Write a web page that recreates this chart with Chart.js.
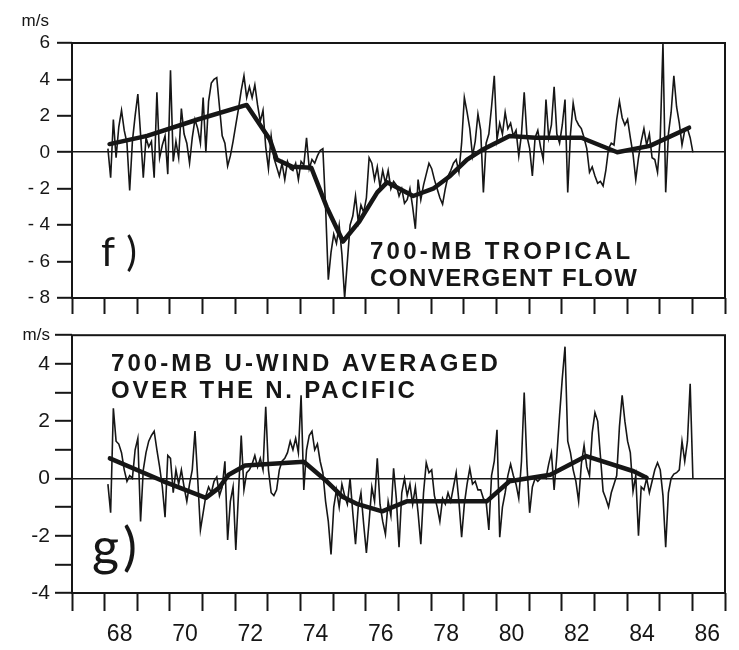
<!DOCTYPE html>
<html lang="en">
<head>
  <meta charset="UTF-8">
  <title>700-MB tropical convergent flow and N. Pacific U-wind</title>
  <script src="https://cdn.jsdelivr.net/npm/chart.js"></script>
  <style>
    body { margin: 0; background: #fff; }
    #wrap { position: relative; width: 739px; height: 650px; background: #fff; }
    #wrap canvas { position: absolute; left: 0; }
  </style>
</head>
<body>
  <div id="wrap">
    <canvas id="panelF" width="739" height="320" style="top: 0;"></canvas>
    <canvas id="panelG" width="739" height="330" style="top: 320px;"></canvas>
  </div>

  <script>
    // monthly anomalies, Jan 1968 .. Dec 1985, m/s (one row per year)
    const firstMonth = 1968.1;

    const convergentFlow = [
      0.2, -1.4, 1.8, -0.3, 1.4, 2.3, 1.2, 0.5, -2.1, 0.6, 2.0, 3.2,
      1.0, -1.4, 0.8, 0.3, 0.6, -1.4, 3.3, -0.3, 0.4, 0.9, -1.2, 4.5,
      -0.5, 0.6, -0.3, 2.4, 1.0, 0.5, -0.6, 0.8, 1.8, 1.3, 0.5, 3.0,
      0.0, 2.8, 3.8, 4.0, 4.1, 2.5, 0.9, 0.5, -0.75, -0.2, 0.6, 1.5,
      2.4, 3.4, 4.2, 3.0, 3.6, 3.0, 3.7, 2.6, 1.7, 2.3, 0.3, -0.9,
      0.9, -0.3, -0.8, -1.3, -0.6, -1.5, -0.5, -0.9, -1.0, -0.6, -1.5, -0.5,
      -0.7, 0.8, -0.9, -0.4, -0.6, -0.2, 0.1, 0.2, -3.0, -7.0, -5.5, -4.5,
      -5.0, -4.0, -5.6, -8.0, -6.0, -4.0, -3.5, -2.4, -3.8, -2.9, -3.3, -2.5,
      -0.3, -0.6, -1.5, -0.8, -1.9, -1.0, -1.7, -1.0, -2.0, -1.6, -1.8, -2.4,
      -2.0, -2.8, -2.6, -2.0, -3.0, -4.2, -1.5, -2.6, -1.8, -1.2, -0.6, -0.9,
      -1.5, -2.0, -2.5, -2.85, -2.0, -1.3, -1.0, -0.6, -0.4, -1.1, 0.5, 3.0,
      2.2, 1.3, -0.2, 0.6, 2.1, 1.2, -2.2, 0.5, 1.0, 2.5, 4.2, 0.7,
      1.6, 1.0, 2.2, 1.3, 1.6, 0.9, 1.2, -0.2, 1.0, 3.3, 0.9, 0.2,
      -1.3, 0.8, 1.2, 0.3, -0.4, 2.9, 0.8, 1.5, 3.6, 1.0, 0.5, 1.5,
      2.9, -2.2, 1.0, 2.7, 1.8, 1.5, 1.3, 0.8, 0.2, -1.1, -0.8, -1.3,
      -1.7, -1.6, -1.85, -1.0, 0.2, 0.5, 0.4, 1.8, 2.8, 1.9, 1.5, 1.8,
      0.8, -0.1, -1.5, -0.3, 0.6, 1.3, 0.4, 1.0, -0.3, -0.4, -1.1, 0.8,
      6.0, -2.2, 1.0, 2.2, 4.2, 2.5, 1.6, 0.4, 1.2, 1.3, 0.8, 0.0
    ];

    const uWind = [
      -0.2, -1.2, 2.45, 1.3, 1.2, 0.9, 0.3, -0.1, 0.1, 0.0, 1.0, 1.4,
      -1.5, 0.3, 0.9, 1.3, 1.5, 1.65, 1.0, 0.4, -0.3, -1.35, 0.8, 0.7,
      -0.5, 0.3, -0.2, 0.3, -0.3, -0.8, -0.2, 0.3, 1.65, 0.0, -1.8, -1.2,
      -0.6, -0.3, -0.5, -0.1, 0.05, -0.6, -0.3, 0.6, -2.15, -0.8, -0.3, -2.5,
      -0.5, 1.5, -0.4, 0.2, 0.3, 0.5, 0.8, 0.4, 0.7, 0.3, 2.5, 0.3,
      -0.5, -0.6, -0.4, 0.3, 0.6, 0.7, 0.9, 1.3, 1.0, 1.4, 0.9, 2.9,
      -0.4, 1.0, 1.5, 1.65, 1.0, 1.2, 0.6, 0.2, -0.8, -1.5, -2.65, -1.0,
      -0.4, -1.0, -0.2, -0.6, -0.9, 0.0, -1.2, -2.3, -1.0, -0.5, -1.6, -2.6,
      -1.5, -0.3, -0.8, 0.7, -0.9, -1.5, -1.95, -0.8, -1.3, 0.35, -0.7, -2.4,
      -0.5, 0.0, -0.6, -0.2, -0.9, -0.3, -1.2, -2.3, -0.5, 0.55, 0.2, 0.3,
      -0.6, -1.0, -1.5, -0.7, -0.9, -0.5, -0.8, -0.3, 0.2, -0.8, -2.05, -0.9,
      -0.2, 0.35, -0.2, -0.1, -0.4, -0.4, -0.7, -0.8, -1.8, 0.1, 0.6, 1.7,
      -2.05, -1.0, -0.5, 0.1, 0.5, 0.1, -0.2, -0.7, 0.6, 3.0, 0.5, -1.2,
      -0.3, 0.0, -0.1, 0.0, 0.1, 0.0, 0.5, 0.9, -0.4, 0.8, 2.2, 3.5,
      4.6, 1.3, 0.9, 0.3, -0.1, -0.8, 0.5, 1.15, 0.4, 0.1, 1.6, 2.3,
      2.0, 0.8, -0.45, -0.7, -1.0, -0.5, -0.2, 0.1, 1.8, 2.9, 2.0, 1.3,
      0.9, -0.45, 0.1, -2.0, -0.3, -0.4, 0.0, -0.5, -0.1, 0.3, 0.55, 0.3,
      -0.6, -2.4, -0.5, 0.0, 0.15, 0.2, 0.3, 1.3, 0.6, 1.3, 3.3, 0.0
    ];

    // heavy smoothed curves, read at their bends
    const convTrendYears = [1968.15, 1969.3, 1970.85, 1972.35, 1973.06, 1973.27, 1973.75, 1974.33,
      1974.8, 1975.3, 1975.8, 1976.35, 1976.65, 1977.45, 1978.06, 1978.58, 1979.1, 1979.6,
      1980.4, 1981.2, 1982.6, 1983.7, 1984.7, 1985.9];
    const convTrendValues = [0.45, 0.9, 1.8, 2.6, 0.7, -0.4, -0.8, -0.85,
      -3.0, -4.9, -3.8, -2.2, -1.65, -2.4, -2.0, -1.3, -0.4, 0.17,
      0.9, 0.8, 0.8, 0.0, 0.35, 1.35];

    const uWindTrendYears = [1968.16, 1969.8, 1971.1, 1971.5, 1971.8, 1972.3, 1974.1, 1974.8,
      1975.3, 1975.75, 1976.5, 1977.25, 1979.7, 1980.4, 1981.65, 1982.75, 1984.2, 1984.6];
    const uWindTrendValues = [0.7, -0.1, -0.68, -0.33, 0.13, 0.45, 0.58, -0.1,
      -0.65, -0.9, -1.15, -0.8, -0.8, -0.1, 0.13, 0.78, 0.25, 0.02];

    // axes
    const yearTicks = [1967, 1968, 1969, 1970, 1971, 1972, 1973, 1974, 1975, 1976, 1977,
      1978, 1979, 1980, 1981, 1982, 1983, 1984, 1985, 1986, 1987];
    const labeledYears = [1968, 1970, 1972, 1974, 1976, 1978, 1980, 1982, 1984, 1986];
    const yearLabels = ['68', '70', '72', '74', '76', '78', '80', '82', '84', '86'];

    const fTicks = [-8, -6, -4, -2, 0, 2, 4, 6];
    const fTickLabels = ['- 8', '- 6', '- 4', '- 2', '0', '2', '4', '6'];
    const gTicks = [-4, -3, -2, -1, 0, 1, 2, 3, 4, 5];
    const gTickLabels = ['-4', '', '-2', '', '0', '', '2', '', '4', 'm/s'];

    const INK = '#161616';
    const FONT = '"Liberation Sans", Arial, sans-serif';

    function monthly(values) {
      return values.map((v, i) => ({ x: firstMonth + i / 12, y: v }));
    }
    function pairs(xs, ys) {
      return xs.map((x, i) => ({ x: x, y: ys[i] }));
    }

    // frame round the plot and the free text of each panel
    const panelText = {
      id: 'panelText',
      afterDraw(chart, args, opts) {
        const ctx = chart.ctx;
        const a = chart.chartArea;
        ctx.save();
        ctx.strokeStyle = INK;
        ctx.lineWidth = 2;
        ctx.strokeRect(a.left, a.top, a.right - a.left, a.bottom - a.top);
        ctx.fillStyle = INK;
        ctx.textBaseline = 'alphabetic';
        (opts.items || []).forEach(t => {
          ctx.font = t.font;
          ctx.textAlign = t.align || 'left';
          ctx.letterSpacing = '0px';
          if (t.width) {
            const w = ctx.measureText(t.text).width;
            ctx.letterSpacing = ((t.width - w) / (t.text.length - 1)).toFixed(2) + 'px';
          }
          ctx.fillText(t.text, t.x, t.y);
        });
        ctx.restore();
      }
    };

    function yearAxis(showLabels, tickLength, height) {
      return {
        type: 'linear',
        min: 1967,
        max: 1987,
        afterBuildTicks: s => { s.ticks = yearTicks.map(v => ({ value: v })); },
        afterFit: s => { s.height = height; },
        border: { display: false },
        grid: { drawOnChartArea: false, tickLength: tickLength, tickColor: INK, tickWidth: 2 },
        ticks: {
          autoSkip: false,
          maxRotation: 0,
          labelOffset: 15,
          padding: 10,
          color: INK,
          font: { family: FONT, size: 23 },
          callback: v => {
            const i = labeledYears.indexOf(v);
            return showLabels && i >= 0 ? yearLabels[i] : '';
          }
        }
      };
    }

    function valueAxis(min, max, ticks, labels, tickLength, padding, fontFor) {
      return {
        type: 'linear',
        min: min,
        max: max,
        afterBuildTicks: s => { s.ticks = ticks.map(v => ({ value: v })); },
        afterFit: s => { s.width = 72; },
        border: { display: false },
        grid: {
          color: c => (c.tick && c.tick.value === 0 ? INK : 'rgba(0,0,0,0)'),
          lineWidth: 1.6,
          tickLength: tickLength,
          tickColor: INK,
          tickWidth: 2
        },
        ticks: {
          padding: padding,
          color: INK,
          font: fontFor,
          callback: v => labels[ticks.indexOf(v)]
        }
      };
    }

    function lineSets(raw, trendX, trendY) {
      return [
        { data: monthly(raw), borderColor: INK, borderWidth: 1.6, pointRadius: 0, tension: 0 },
        { data: pairs(trendX, trendY), borderColor: INK, borderWidth: 4.5, pointRadius: 0, tension: 0,
          borderJoinStyle: 'round', borderCapStyle: 'round' }
      ];
    }

    const common = {
      responsive: false,
      animation: false,
      events: []
    };

    new Chart(document.getElementById('panelF'), {
      type: 'line',
      data: { datasets: lineSets(convergentFlow, convTrendYears, convTrendValues) },
      options: Object.assign({}, common, {
        layout: { padding: { top: 43, right: 14, left: 0, bottom: 0 } },
        plugins: {
          legend: { display: false },
          tooltip: { enabled: false },
          panelText: {
            items: [
              { text: 'm/s', x: 49, y: 26, font: '17px ' + FONT, align: 'right' },
              { text: 'f)', x: 101, y: 266, width: 36, font: '40px Lato, sans-serif' },
              { text: '700-MB TROPICAL', x: 370, y: 259, width: 260, font: 'bold 24px ' + FONT },
              { text: 'CONVERGENT FLOW', x: 370, y: 286, width: 267, font: 'bold 24px ' + FONT }
            ]
          }
        },
        scales: {
          x: yearAxis(false, 16, 22),
          y: valueAxis(-8, 6, fTicks, fTickLabels, 15, 7, { family: FONT, size: 19 })
        }
      }),
      plugins: [panelText]
    });

    new Chart(document.getElementById('panelG'), {
      type: 'line',
      data: { datasets: lineSets(uWind, uWindTrendYears, uWindTrendValues) },
      options: Object.assign({}, common, {
        layout: { padding: { top: 15, right: 14, left: 0, bottom: 0 } },
        plugins: {
          legend: { display: false },
          tooltip: { enabled: false },
          panelText: {
            items: [
              { text: 'g)', x: 92, y: 245, width: 45, font: '52px Lato, sans-serif' },
              { text: '700-MB U-WIND AVERAGED', x: 111, y: 51, width: 387, font: 'bold 24px ' + FONT },
              { text: 'OVER THE N. PACIFIC', x: 111, y: 78, width: 304, font: 'bold 24px ' + FONT }
            ]
          }
        },
        scales: {
          x: yearAxis(true, 18, 57),
          y: valueAxis(-4, 5, gTicks, gTickLabels, 17, 5,
            c => ({ family: FONT, size: c.tick && c.tick.value === 5 ? 17 : 21 }))
        }
      }),
      plugins: [panelText]
    });
  </script>
</body>
</html>
